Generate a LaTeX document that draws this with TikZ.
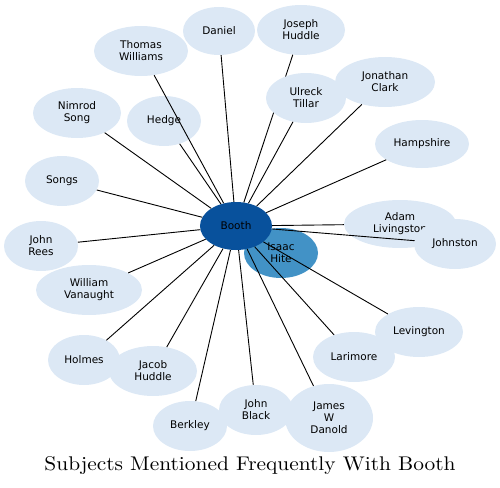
\documentclass[tikz,border=0pt]{standalone}
\usepackage{fontspec}
\newfontfamily\nodefont{DejaVu Sans}
\usetikzlibrary{shapes.geometric}
\definecolor{lightnode}{HTML}{DCE8F5}
\definecolor{boothblue}{HTML}{08519C}
\definecolor{hiteblue}{HTML}{4292C6}
\tikzset{
  subj/.style={ellipse, fill=lightnode, inner sep=0pt, align=center,
    font=\nodefont\fontsize{10.5}{12}\selectfont},
  link/.style={draw=black, line width=0.9pt},
}
\begin{document}
\begin{tikzpicture}[x=1pt,y=-1pt]
\useasboundingbox (0,0) rectangle (500,487);
% central nodes
\node[subj, fill=hiteblue, minimum width=74pt, minimum height=50pt] (hite) at (281,253) {Isaac\\Hite};
\node[subj, fill=boothblue, minimum width=72pt, minimum height=48pt] (booth) at (236,226) {Booth};
% surrounding nodes
\node[subj, minimum width=94pt, minimum height=50pt] (thomas) at (141,51) {Thomas\\Williams};
\node[subj, minimum width=72pt, minimum height=48pt] (daniel) at (219,31) {Daniel};
\node[subj, minimum width=88pt, minimum height=50pt] (joseph) at (301,30) {Joseph\\Huddle};
\node[subj, minimum width=100pt, minimum height=50pt] (jonathan) at (385,82) {Jonathan\\Clark};
\node[subj, minimum width=94pt, minimum height=48pt] (hampshire) at (422,144) {Hampshire};
\node[subj, minimum width=88pt, minimum height=50pt] (nimrod) at (77,113) {Nimrod\\Song};
\node[subj, minimum width=74pt, minimum height=50pt] (hedge) at (164,121) {Hedge};
\node[subj, minimum width=74pt, minimum height=50pt] (songs) at (62,181) {Songs};
\node[subj, minimum width=74pt, minimum height=50pt] (rees) at (41,246) {John\\Rees};
\node[subj, minimum width=106pt, minimum height=50pt] (william) at (89,290) {William\\Vanaught};
\node[subj, minimum width=72pt, minimum height=50pt] (holmes) at (84,360) {Holmes};
\node[subj, minimum width=88pt, minimum height=50pt] (jacob) at (153,371) {Jacob\\Huddle};
\node[subj, minimum width=74pt, minimum height=50pt] (berkley) at (190,426) {Berkley};
\node[subj, minimum width=74pt, minimum height=50pt] (black) at (256,410) {John\\Black};
\node[subj, minimum width=88pt, minimum height=68pt] (james) at (329,418) {James\\W\\Danold};
\node[subj, minimum width=82pt, minimum height=50pt] (larimore) at (354,357) {Larimore};
\node[subj, minimum width=88pt, minimum height=50pt] (levington) at (419,332) {Levington};
\node[subj, minimum width=112pt, minimum height=48pt] (adam) at (400,224) {Adam\\Livingston};
% connectors
\foreach \t in {thomas,daniel,joseph,jonathan,hampshire,nimrod,hedge,songs,rees,william,holmes,jacob,berkley,black,james,larimore,levington,adam}
  \draw[link] (booth) -- (\t);
\draw[link] (booth) -- (455,244) coordinate (jend);
% nodes drawn on top of connectors
\node[subj, minimum width=80pt, minimum height=50pt] (ulreck) at (306,98) {Ulreck\\Tillar};
\draw[link] (booth) -- (ulreck);
\node[subj, minimum width=82pt, minimum height=50pt] (johnston) at (455,244) {Johnston};
% title
\node[inner sep=0pt] (title) at (250,466) {\scalebox{2.14}[1.98]{\fontsize{10}{12}\selectfont Subjects Mentioned Frequently With Booth}};
\end{tikzpicture}
\end{document}
